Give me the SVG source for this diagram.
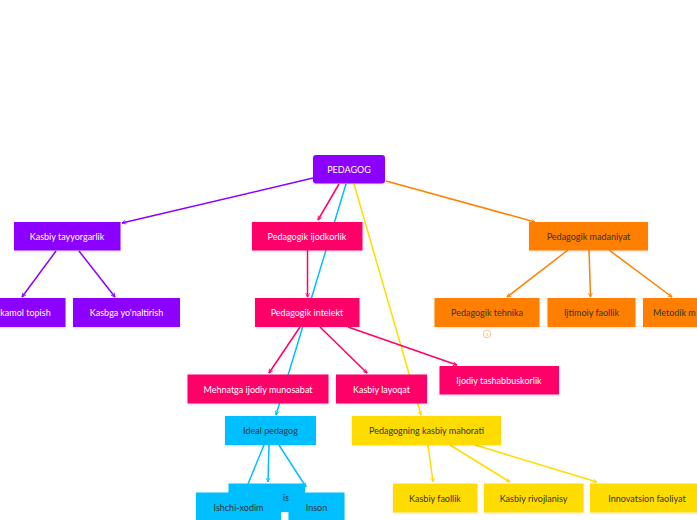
<svg xmlns="http://www.w3.org/2000/svg" width="697" height="520" viewBox="0 0 697 520">
<defs>
<style>
text{font-family:Lato,"Open Sans","Liberation Sans",sans-serif;font-size:9px;text-anchor:middle;dominant-baseline:central}
.w{fill:#ffffff}.d{fill:#333333}
.pu{fill:#8C00FF}.pk{fill:#FF0068}.or{fill:#FF8000}.cy{fill:#00BFFF}.ye{fill:#FFDC00}
.box{filter:url(#sh)}
.e{fill:none;stroke-width:1.5}
.epu{stroke:#8C00FF;marker-end:url(#mpu)}
.epk{stroke:#FF0068;marker-end:url(#mpk)}
.eor{stroke:#FF8000;marker-end:url(#mor)}
.ecy{stroke:#00BFFF;marker-end:url(#mcy)}
.eye{stroke:#FFDC00;marker-end:url(#mye)}
</style>
<filter id="sh" x="-10%" y="-20%" width="120%" height="150%"><feDropShadow dx="0" dy="1" stdDeviation="0.8" flood-color="#000" flood-opacity="0.12"/></filter>
<marker id="mpu" viewBox="0 0 10 10" refX="9" refY="5" markerWidth="5" markerHeight="5" orient="auto" markerUnits="userSpaceOnUse"><path d="M1,1 L9,5 L1,9" fill="none" stroke="#8C00FF" stroke-width="1.6"/></marker>
<marker id="mpk" viewBox="0 0 10 10" refX="9" refY="5" markerWidth="5" markerHeight="5" orient="auto" markerUnits="userSpaceOnUse"><path d="M1,1 L9,5 L1,9" fill="none" stroke="#FF0068" stroke-width="1.6"/></marker>
<marker id="mor" viewBox="0 0 10 10" refX="9" refY="5" markerWidth="5" markerHeight="5" orient="auto" markerUnits="userSpaceOnUse"><path d="M1,1 L9,5 L1,9" fill="none" stroke="#FF8000" stroke-width="1.6"/></marker>
<marker id="mcy" viewBox="0 0 10 10" refX="9" refY="5" markerWidth="5" markerHeight="5" orient="auto" markerUnits="userSpaceOnUse"><path d="M1,1 L9,5 L1,9" fill="none" stroke="#00BFFF" stroke-width="1.6"/></marker>
<marker id="mye" viewBox="0 0 10 10" refX="9" refY="5" markerWidth="5" markerHeight="5" orient="auto" markerUnits="userSpaceOnUse"><path d="M1,1 L9,5 L1,9" fill="none" stroke="#FFDC00" stroke-width="1.6"/></marker>
</defs>
<rect width="697" height="520" fill="#ffffff"/>
<g id="connectors">
<line class="e epu" x1="313" y1="178" x2="122" y2="223"/>
<line class="e epu" x1="56" y1="251" x2="22" y2="297"/>
<line class="e epu" x1="79" y1="251" x2="115" y2="297"/>
<line class="e epk" x1="339" y1="184" x2="318" y2="220"/>
<line class="e ecy" x1="346" y1="184" x2="276" y2="415"/>
<line class="e eye" x1="354" y1="184" x2="421" y2="415"/>
<line class="e eor" x1="386" y1="181" x2="535" y2="222"/>
<line class="e epk" x1="307.5" y1="250" x2="307.5" y2="297"/>
<line class="e epk" x1="300" y1="327" x2="269" y2="373"/>
<line class="e epk" x1="320" y1="327" x2="367" y2="373"/>
<line class="e epk" x1="348" y1="327" x2="457" y2="365"/>
<line class="e eor" x1="568" y1="250" x2="507" y2="297"/>
<line class="e eor" x1="589" y1="250" x2="590.5" y2="297"/>
<line class="e eor" x1="609" y1="250" x2="672" y2="297"/>
<line class="e eye" x1="428" y1="445" x2="433" y2="482"/>
<line class="e eye" x1="450" y1="445" x2="510" y2="482"/>
<line class="e eye" x1="475" y1="445" x2="597" y2="482"/>
<line class="e" stroke="#00BFFF" x1="264" y1="445" x2="248" y2="484"/>
<line class="e ecy" x1="269" y1="445" x2="268" y2="482"/>
<line class="e ecy" x1="279" y1="445" x2="306" y2="487"/>
</g>
<g id="n-pedagog"><rect class="box pu" x="313" y="155" width="72" height="28.5" rx="3"/><text class="w" x="349" y="169.5">PEDAGOG</text></g>
<g id="n-kasbiy-tayyorgarlik"><rect class="box pu" x="14" y="222" width="106.5" height="28.5"/><text class="w" x="67" y="236.5">Kasbiy tayyorgarlik</text></g>
<g id="n-kamol-topish"><rect class="box pu" x="-40" y="298" width="105.5" height="29"/><text class="w" x="25.5" y="312.5">kamol topish</text></g>
<g id="n-kasbga"><rect class="box pu" x="73" y="298" width="107" height="29"/><text class="w" x="126.5" y="312.5">Kasbga yo'naltirish</text></g>
<g id="n-ijodkorlik"><rect class="box pk" x="252" y="222" width="110.5" height="28.5"/><text class="w" x="307" y="236.5">Pedagogik ijodkorlik</text></g>
<g id="n-intelekt"><rect class="box pk" x="255" y="298" width="104.5" height="29"/><text class="w" x="307" y="312.5">Pedagogik intelekt</text></g>
<g id="n-mehnatga"><rect class="box pk" x="187.5" y="374.5" width="141" height="29"/><text class="w" x="258" y="389">Mehnatga ijodiy munosabat</text></g>
<g id="n-layoqat"><rect class="box pk" x="336" y="374.5" width="91" height="29"/><text class="w" x="381.5" y="389">Kasbiy layoqat</text></g>
<g id="n-tashabbus"><rect class="box pk" x="439.5" y="366" width="119.5" height="28.5"/><text class="w" x="499" y="380">Ijodiy tashabbuskorlik</text></g>
<g id="n-madaniyat"><rect class="box or" x="529" y="222" width="119" height="28.5"/><text class="d" x="588.5" y="236.5">Pedagogik madaniyat</text></g>
<g id="n-tehnika"><rect class="box or" x="434.5" y="298" width="105" height="29"/><text class="d" x="487" y="312.5">Pedagogik tehnika</text>
<circle cx="487" cy="334" r="3.8" fill="#ffffff" stroke="#FFB366" stroke-width="0.8"/><text x="487" y="334.2" style="font-size:4.5px;fill:#FF9933">1</text></g>
<g id="n-ijtimoiy"><rect class="box or" x="547.5" y="298" width="88" height="29"/><text class="d" x="591.5" y="312.5">Ijtimoiy faollik</text></g>
<g id="n-metodik"><rect class="box or" x="643" y="298" width="110" height="29"/><text class="d" x="653" y="312.5" style="text-anchor:start">Metodik m</text></g>
<g id="n-ideal"><rect class="box cy" x="225" y="416" width="91" height="29"/><text class="d" x="270.5" y="430.5">Ideal pedagog</text></g>
<g id="n-hidden"><rect class="box cy" x="228.5" y="483.5" width="76.5" height="28.5"/><text class="d" x="283" y="497.5" style="text-anchor:start">is</text></g>
<g id="n-ishchi"><rect class="box cy" x="196" y="492.5" width="85" height="29"/><text class="d" x="238.5" y="507">Ishchi-xodim</text></g>
<g id="n-inson"><rect class="box cy" x="288.5" y="492.5" width="56" height="29"/><text class="d" x="316.5" y="507">Inson</text></g>
<g id="n-mahorati"><rect class="box ye" x="352" y="416" width="149" height="29"/><text class="d" x="426.5" y="430.5">Pedagogning kasbiy mahorati</text></g>
<g id="n-faollik"><rect class="box ye" x="393" y="483.5" width="84.5" height="29"/><text class="d" x="435" y="498">Kasbiy faollik</text></g>
<g id="n-rivojlanisy"><rect class="box ye" x="484" y="483.5" width="99.5" height="29"/><text class="d" x="533.5" y="498">Kasbiy rivojlanisy</text></g>
<g id="n-innovatsion"><rect class="box ye" x="590" y="483.5" width="114" height="29"/><text class="d" x="647" y="498">Innovatsion faoliyat</text></g>
</svg>
